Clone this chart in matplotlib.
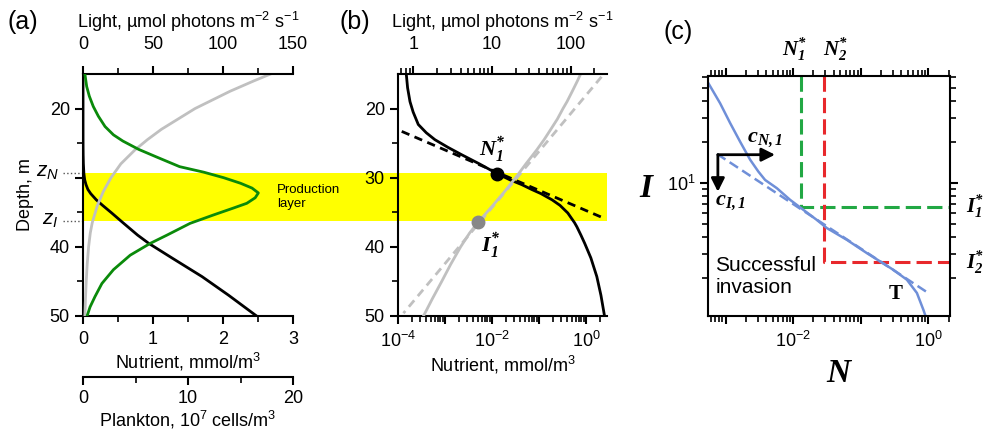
"""
Depth profiles of light, nutrient and plankton, and the invasion diagram.
"""

import matplotlib
matplotlib.use('Agg')
import matplotlib.pyplot as plt
import matplotlib.ticker as mticker
import numpy as np

plt.rcParams['font.family'] = ['Liberation Sans', 'DejaVu Sans']
plt.rcParams['mathtext.fontset'] = 'custom'
plt.rcParams['mathtext.rm'] = 'Liberation Sans'
plt.rcParams['mathtext.it'] = 'Liberation Sans:italic'
plt.rcParams['mathtext.bf'] = 'Liberation Sans:bold'
plt.rcParams['mathtext.bfit'] = 'Liberation Serif:bold:italic'
plt.rcParams['font.size'] = 13
plt.rcParams['axes.linewidth'] = 1.5
for ax_name in ('xtick', 'ytick'):
    plt.rcParams[ax_name + '.major.width'] = 1.5
    plt.rcParams[ax_name + '.minor.width'] = 1.2
    plt.rcParams[ax_name + '.major.size'] = 6
    plt.rcParams[ax_name + '.minor.size'] = 4
    plt.rcParams[ax_name + '.direction'] = 'out'

# Depth profiles (panels a and b), depth in m
depth_light = [15, 16, 17.5, 19, 20, 21.5, 23, 24.5, 26, 28, 30, 32, 34,
               36.5, 38, 40, 42.5, 45, 47.5, 50]
light = [134, 122, 105, 90, 80, 68, 56, 46, 37, 27, 20, 14.5, 10.3, 6.6,
         5.2, 4.0, 3.0, 2.3, 1.75, 1.35]

depth_nutr = [15, 17, 19, 20.5, 22.3, 23.5, 24.5, 25.6, 26.7, 28, 29.4,
              30.3, 31, 31.7, 32.3, 33.2, 34, 35.1, 36.5, 37.1, 38.3, 39.5,
              41.6, 44.3, 47, 50]
nutrient = [1.5e-4, 1.6e-4, 1.8e-4, 2.1e-4, 2.7e-4, 4e-4, 6.1e-4, 1.15e-3,
            2.3e-3, 5.4e-3, 0.0128, 0.024, 0.043, 0.07, 0.11, 0.19, 0.28,
            0.41, 0.57, 0.64, 0.78, 0.94, 1.27, 1.70, 2.08, 2.48]

depth_plank = [15.1, 16.8, 18.2, 19.7, 21.1, 22.6, 23.8, 24.7, 25.9, 27.0,
               28.4, 29.2, 30.0, 30.8, 31.5, 32.2, 32.9, 33.7, 34.4, 35.4,
               36.6, 38.3, 39.5, 41.2, 43.3, 45.3, 47.2, 48.7, 49.9]
plankton = [0.19, 0.35, 0.6, 0.98, 1.46, 2.1, 2.9, 3.8, 5.3, 7.0, 9.2, 11.5,
            13.4, 15.0, 16.1, 16.7, 16.4, 15.6, 14.3, 12.4, 10.2, 8.0, 6.4,
            4.5, 2.9, 1.8, 1.14, 0.67, 0.41]

# tangents in (b)
nutr_tan_depth = [23.3, 35.8]
nutr_tan = [1.2e-4, 2.3]
light_tan_depth = [15.4, 49.6]
light_tan = [247, 0.75]

# production layer and critical levels
z_N, z_I = 29.3, 36.2
N1_depth, I1_depth = 29.4, 36.4
N1_star, N2_star = 0.013, 0.0288
I1_star, I2_star = 6.7, 2.6

# panel (c): trade-off curve T and its tangent
T_N = [5.56e-4, 8.3e-4, 1.17e-3, 1.64e-3, 2.31e-3, 3.06e-3, 3.85e-3,
       5.74e-3, 9.03e-3, 0.0142, 0.0224, 0.0316, 0.0625, 0.124, 0.195,
       0.306, 0.483, 0.68, 0.851, 0.90]
T_I = [54.1, 38.5, 27.5, 20.1, 14.8, 12.1, 10.5, 9.14, 7.5, 6.33, 5.34,
       4.65, 3.81, 3.04, 2.64, 2.29, 1.94, 1.55, 1.16, 1.07]
T_tan_N = [7.5e-4, 1.0]
T_tan_I = [16.3, 1.55]
arrow_origin = (7.7e-4, 16.1)
arrow_N_end = 5.4e-3
arrow_I_end = 8.6

GREEN = '#0a8a0a'
GRAY = '#c0c0c0'
BLUE = '#6f8fd8'

W, H = 985, 434
fig = plt.figure(figsize=(W / 100, H / 100), dpi=100)


def box(l, t, r, b):
    return [l / W, 1 - b / H, (r - l) / W, (b - t) / H]


pos_a = box(83, 74, 293, 316)
pos_b = box(398, 74, 607, 316)
ax_a = fig.add_axes(pos_a)
ax_b = fig.add_axes(pos_b)
ax_c = fig.add_axes(box(708, 76, 950, 316))
for ax in (ax_a, ax_b):
    ax.patch.set_visible(False)

# ---------------- panel (a) ----------------
ax_a.set_ylim(50, 15)
ax_a.set_xlim(0, 3)
ax_a.plot(nutrient, depth_nutr, color='k', lw=2)
# production layer band, runs on across panel (b)
band_right = (pos_b[0] + pos_b[2] - pos_a[0]) / pos_a[2]
ax_a.axhspan(z_N, z_I, xmin=0, xmax=band_right, color='#ffff00', lw=0,
             zorder=0, clip_on=False)
ax_a.text(2.77, 32.8, 'Production\nlayer', fontsize=9.5, va='center',
          ha='left', linespacing=1.25)
ax_a.spines['right'].set_visible(False)
ax_a.spines['top'].set_visible(False)
ax_a.set_xticks([0, 1, 2, 3])
ax_a.set_xticks([0.5, 1.5, 2.5], minor=True)
ax_a.set_yticks([20, 30, 40, 50], ['20', '', '40', '50'])
ax_a.set_yticks([25, 35, 45], minor=True)
ax_a.tick_params(axis='x', which='both', pad=5)
ax_a.set_xlabel('Nutrient, mmol/m$^3$', labelpad=2)
ax_a.set_ylabel('Depth, m', labelpad=11)
for zv, lab in ((z_N, '$z_N$'), (z_I, '$z_I$')):
    ax_a.plot([-0.095, 0], [zv, zv], color='#555555', ls=':', lw=1,
              transform=ax_a.get_yaxis_transform(), clip_on=False)
    ax_a.text(-0.115, zv, lab, fontsize=15, ha='right', va='center',
              transform=ax_a.get_yaxis_transform())

ax_aL = ax_a.twiny()
ax_aL.plot(light, depth_light, color=GRAY, lw=2)
ax_aL.set_xlim(0, 150)
ax_aL.set_xticks([0, 50, 100, 150])
ax_aL.set_xticks([25, 75, 125], minor=True)
ax_aL.tick_params(axis='x', which='both', pad=9)
for s in ('left', 'right', 'bottom'):
    ax_aL.spines[s].set_visible(False)
ax_aL.set_xlabel('Light, µmol photons m$^{-2}$ s$^{-1}$', labelpad=6)

ax_aP = ax_a.twiny()
ax_aP.plot(plankton, depth_plank, color=GREEN, lw=2)
ax_aP.set_xlim(0, 20)
ax_aP.xaxis.tick_bottom()
ax_aP.xaxis.set_label_position('bottom')
ax_aP.spines['bottom'].set_position(('outward', 44))
for s in ('left', 'right', 'top'):
    ax_aP.spines[s].set_visible(False)
ax_aP.set_xticks([0, 10, 20])
ax_aP.set_xticks([5, 15], minor=True)
ax_aP.tick_params(axis='x', which='both', pad=3)
ax_aP.set_xlabel('Plankton, 10$^7$ cells/m$^3$', labelpad=2)


def decade_fmt(keep):
    def f(v, p):
        e = int(round(np.log10(v)))
        return '$10^{%d}$' % e if e in keep else ''
    return mticker.FuncFormatter(f)


def minor_log():
    return mticker.LogLocator(base=10, subs=np.arange(2, 10), numticks=20)


# ---------------- panel (b) ----------------
ax_b.set_xscale('log')
ax_b.set_ylim(50, 15)
ax_b.set_xlim(1e-4, 2.8)
ax_b.plot(nutr_tan, nutr_tan_depth, color='k', lw=2, ls=(0, (3, 2)))
ax_b.plot(nutrient, depth_nutr, color='k', lw=2)
ax_b.plot([N1_star], [N1_depth], 'o', color='k', ms=9)
ax_b.annotate(r'$\mathbfit{N}_{\mathbfit{1}}^{\mathbfit{*}}$',
              xy=(N1_star, N1_depth), xytext=(-4, 17),
              textcoords='offset points', ha='center', va='center',
              fontsize=16)
ax_b.spines['right'].set_visible(False)
ax_b.spines['top'].set_visible(False)
ax_b.xaxis.set_major_locator(mticker.LogLocator(base=10, numticks=10))
ax_b.xaxis.set_minor_locator(minor_log())
ax_b.xaxis.set_major_formatter(decade_fmt((-4, -2, 0)))
ax_b.xaxis.set_minor_formatter(mticker.NullFormatter())
ax_b.set_yticks([20, 30, 40, 50])
ax_b.set_yticks([25, 35, 45], minor=True)
ax_b.tick_params(axis='x', which='both', pad=5)
ax_b.set_xlabel('Nutrient, mmol/m$^3$', labelpad=2)

ax_bL = ax_b.twiny()
ax_bL.set_xscale('log')
ax_bL.set_xlim(0.64, 290)
ax_bL.plot(light_tan, light_tan_depth, color=GRAY, lw=2, ls=(0, (3, 2)))
ax_bL.plot(light, depth_light, color=GRAY, lw=2)
ax_bL.plot([I1_star], [I1_depth], 'o', color='#888888', ms=9)
ax_bL.annotate(r'$\mathbfit{I}_{\mathbfit{1}}^{\mathbfit{*}}$',
               xy=(I1_star, I1_depth), xytext=(9, -17),
               textcoords='offset points', ha='center', va='center',
               fontsize=16)
for s in ('left', 'right', 'bottom'):
    ax_bL.spines[s].set_visible(False)
ax_bL.set_xticks([1, 10, 100], ['1', '10', '100'])
ax_bL.xaxis.set_minor_locator(minor_log())
ax_bL.xaxis.set_minor_formatter(mticker.NullFormatter())
ax_bL.tick_params(axis='x', which='both', pad=9)
ax_bL.set_xlabel('Light, µmol photons m$^{-2}$ s$^{-1}$', labelpad=6)

# ---------------- panel (c) ----------------
ax_c.set_xscale('log')
ax_c.set_yscale('log')
ax_c.set_xlim(5.5e-4, 2.1)
ax_c.set_ylim(1.05, 61)
x0, x1 = ax_c.get_xlim()
y0, y1 = ax_c.get_ylim()
ax_c.plot([N1_star, N1_star, x1], [y1, I1_star, I1_star], color='#22a844',
          lw=2.2, ls=(0, (5, 2)))
ax_c.plot([N2_star, N2_star, x1], [y1, I2_star, I2_star], color='#e8282c',
          lw=2.2, ls=(0, (5, 2)))
ax_c.plot(T_N, T_I, color=BLUE, lw=1.8)
ax_c.plot(T_tan_N, T_tan_I, color=BLUE, lw=1.8, ls=(0, (4, 2)))
arrow_kw = dict(arrowstyle='-|>', color='k', lw=2, mutation_scale=20,
                shrinkA=0, shrinkB=0)
ax_c.annotate('', xy=(arrow_N_end, arrow_origin[1]), xytext=arrow_origin,
              arrowprops=arrow_kw)
ax_c.annotate('', xy=(arrow_origin[0], arrow_I_end), xytext=arrow_origin,
              arrowprops=arrow_kw)
ax_c.text(0.236, 0.737, r'$\mathbfit{c}_{\mathbfit{N,1}}$', fontsize=16,
          transform=ax_c.transAxes, ha='center', va='center')
ax_c.text(0.091, 0.471, r'$\mathbfit{c}_{\mathbfit{I,1}}$', fontsize=16,
          transform=ax_c.transAxes, ha='center', va='center')
ax_c.text(0.03, 0.165, 'Successful\ninvasion', fontsize=15,
          transform=ax_c.transAxes, ha='left', va='center', linespacing=1.2)
ax_c.text(0.775, 0.09, 'T', fontsize=15, family='Liberation Serif',
          weight='bold', transform=ax_c.transAxes, ha='center', va='center')
ax_c.tick_params(which='both', top=True, right=True)
ax_c.xaxis.set_major_locator(mticker.LogLocator(base=10, numticks=10))
ax_c.xaxis.set_minor_locator(minor_log())
ax_c.xaxis.set_major_formatter(decade_fmt((-2, 0)))
ax_c.xaxis.set_minor_formatter(mticker.NullFormatter())
ax_c.yaxis.set_major_locator(mticker.LogLocator(base=10, numticks=10))
ax_c.yaxis.set_minor_locator(minor_log())
ax_c.yaxis.set_major_formatter(decade_fmt((1,)))
ax_c.yaxis.set_minor_formatter(mticker.NullFormatter())
ax_c.tick_params(axis='x', which='both', pad=5)
ax_c.tick_params(axis='y', which='both', pad=3)
ax_c.text(-0.25, 0.53, r'$\mathbfit{I}$', fontsize=24,
          transform=ax_c.transAxes, ha='center', va='center')
ax_c.text(0.545, -0.24, r'$\mathbfit{N}$', fontsize=24,
          transform=ax_c.transAxes, ha='center', va='center')
for xv, lab, dx in ((N1_star, '1', -4.5), (N2_star, '2', 8)):
    ax_c.annotate(r'$\mathbfit{N}_{\mathbfit{%s}}^{\mathbfit{*}}$' % lab,
                  xy=(xv, 1.0), xycoords=ax_c.get_xaxis_transform(),
                  xytext=(dx, 19), textcoords='offset points',
                  fontsize=15, ha='center', va='center')
for yv, lab in ((I1_star, '1'), (I2_star, '2')):
    ax_c.text(1.105, yv, r'$\mathbfit{I}_{\mathbfit{%s}}^{\mathbfit{*}}$' % lab,
              fontsize=15, ha='center', va='center',
              transform=ax_c.get_yaxis_transform())

# panel letters
for x, y, lab in ((23, 22, '(a)'), (355, 22, '(b)'), (678, 32, '(c)')):
    fig.text(x / W, 1 - y / H, lab, fontsize=18, ha='center', va='center')

fig.savefig('out.png', dpi=100)
